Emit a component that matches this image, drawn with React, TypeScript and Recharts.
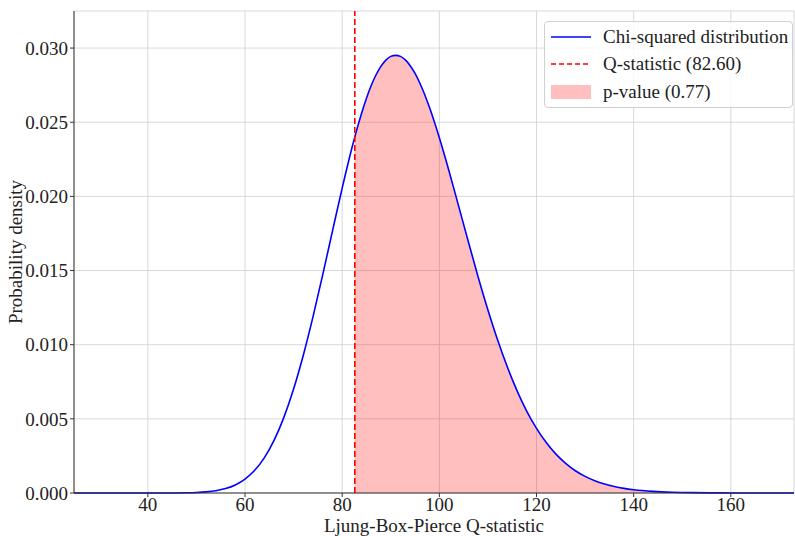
import { ComposedChart, Area, Line, XAxis, YAxis, CartesianGrid, ReferenceLine } from "recharts";

// Q statistic values along the x axis
const qValues = [
    24.8, 30, 35, 40, 44, 48, 50, 52, 54, 56, 58, 60, 62, 64, 66, 68, 70, 72, 74, 76, 78, 80, 82, 82.6,
    84, 86, 88, 89, 90, 91, 92, 93, 94, 95, 96, 98, 100, 102, 104, 106, 108, 110, 112, 114, 116, 118, 120,
    122, 124, 126, 128, 130, 132, 134, 136, 138, 140, 144, 148, 152, 156, 160, 166, 173,
];

// chi-squared density
const density = [
    0, 0, 0, 0.0000002, 0.000002, 0.0000147, 0.0000347, 0.000076, 0.0001556, 0.0002995, 0.000544, 0.000936,
    0.00153, 0.002387, 0.003563, 0.005098, 0.007013, 0.00929, 0.01189, 0.01472, 0.01766, 0.02056, 0.02326, 0.02401,
    0.02561, 0.02749, 0.02878, 0.02919, 0.02944, 0.02951, 0.02944, 0.0292, 0.02881, 0.02829, 0.02763, 0.02597, 0.02395,
    0.0217, 0.01931, 0.01691, 0.01455, 0.01234, 0.01031, 0.00849, 0.00689, 0.00551, 0.00436,
    0.0034, 0.00262, 0.002, 0.0015, 0.00112, 0.000826, 0.000602, 0.000435, 0.000311, 0.00022,
    0.000107, 0.0000506, 0.000023, 0.0000101, 0.00000435, 0.000001, 0.0000002,
];

const qStat = 82.6;
const xTicks = [40, 60, 80, 100, 120, 140, 160];
const yTicks = [0, 0.005, 0.01, 0.015, 0.02, 0.025, 0.03];

const data = qValues.map((q, i) => ({
    q,
    pdf: density[i],
    tail: q >= qStat ? density[i] : null,
}));

const FONT = "'Liberation Serif', 'DejaVu Serif', serif";

const rowStyle = { display: "flex", alignItems: "center", height: 27.5, whiteSpace: "nowrap" as const };

const LegendBox = () => (
    <div
        style={{
            position: "absolute",
            left: 544,
            top: 21,
            width: 249,
            height: 87,
            border: "1px solid #d0d0d0",
            borderRadius: 4,
            background: "rgba(255,255,255,0.8)",
            fontFamily: FONT,
            fontSize: 19,
            color: "#222",
            boxSizing: "border-box",
            paddingTop: 1,
        }}
    >
        <div style={rowStyle}>
            <svg width={52} height={10} style={{ marginLeft: 6, flexShrink: 0 }}>
                <line x1={0} y1={5} x2={40} y2={5} stroke="#0000ff" strokeWidth={1.6} />
            </svg>
            <span>Chi-squared distribution</span>
        </div>
        <div style={rowStyle}>
            <svg width={52} height={10} style={{ marginLeft: 6, flexShrink: 0 }}>
                <line x1={0} y1={5} x2={40} y2={5} stroke="#ff0000" strokeWidth={1.6} strokeDasharray="5 3" />
            </svg>
            <span>Q-statistic (82.60)</span>
        </div>
        <div style={rowStyle}>
            <svg width={52} height={14} style={{ marginLeft: 6, flexShrink: 0 }}>
                <rect x={0} y={0} width={40} height={14} fill="#ffbfbf" />
            </svg>
            <span>p-value (0.77)</span>
        </div>
    </div>
);

const App = () => {
    return (
        <div style={{ position: "absolute", left: 0, top: 0, width: 795, height: 536, background: "#fff" }}>
            <ComposedChart
                width={795}
                height={536}
                data={data}
                margin={{ top: 11, right: 1, bottom: 0, left: 0 }}
                style={{ fontFamily: FONT }}
            >
                <CartesianGrid stroke="#cfcfcf" strokeWidth={0.8} />
                <XAxis
                    dataKey="q"
                    type="number"
                    domain={[24.8, 173]}
                    ticks={xTicks}
                    height={43}
                    tickSize={4}
                    tickMargin={1}
                    stroke="#333"
                    tick={{ fill: "#222", fontSize: 19 }}
                    label={{ value: "Ljung-Box-Pierce Q-statistic", position: "insideBottom", offset: 4, fill: "#222", fontSize: 19 }}
                />
                <YAxis
                    type="number"
                    domain={[0, 0.0325]}
                    ticks={yTicks}
                    width={74}
                    tickSize={4}
                    stroke="#333"
                    tickFormatter={(v: number) => v.toFixed(3)}
                    tick={{ fill: "#222", fontSize: 19 }}
                    label={{ value: "Probability density", angle: -90, position: "insideLeft", offset: 15, fill: "#222", fontSize: 19, style: { textAnchor: "middle" } }}
                />
                <XAxis xAxisId="top" orientation="top" dataKey="q" type="number" domain={[24.8, 173]} height={0} tick={false} tickLine={false} stroke="#333" />
                <YAxis yAxisId="right" orientation="right" domain={[0, 0.0325]} width={0} tick={false} tickLine={false} stroke="#333" />
                <Area
                    dataKey="tail"
                    type="monotone"
                    stroke="none"
                    fill="#ff0000"
                    fillOpacity={0.25}
                    connectNulls={false}
                    isAnimationActive={false}
                    dot={false}
                    activeDot={false}
                />
                <Line
                    dataKey="pdf"
                    type="monotone"
                    stroke="#0000ff"
                    strokeWidth={1.6}
                    dot={false}
                    activeDot={false}
                    isAnimationActive={false}
                />
                <ReferenceLine x={qStat} stroke="#ff0000" strokeWidth={1.6} strokeDasharray="6 3" />
            </ComposedChart>
            <LegendBox />
        </div>
    );
};

export default App;
